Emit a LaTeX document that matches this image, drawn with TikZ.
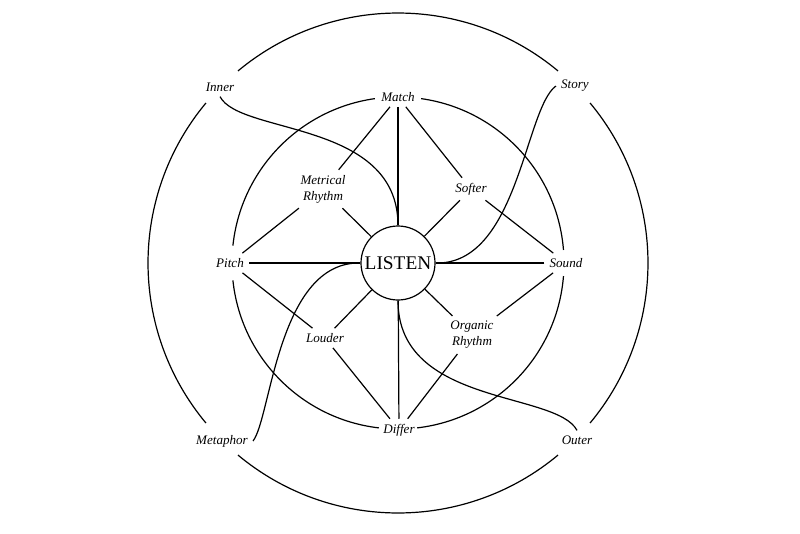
\documentclass[tikz,border=0pt]{standalone}
\usepackage{fontspec}
\setmainfont{Liberation Serif}
\begin{document}
\begin{tikzpicture}[x=0.75pt,y=-0.75pt,line width=0.9pt,
  lbl/.style={font=\fontsize{9.8}{12}\selectfont\itshape, inner sep=3.5pt, align=center},
  hub/.style={circle, draw, minimum size=55.5pt, inner sep=0pt, font=\fontsize{14.5}{16}\selectfont},
  ring/.style={line width=0.9pt},
  link/.style={line width=0.9pt}]
\useasboundingbox (0,0) rectangle (800,533);
\coordinate (C) at (398,263);
% outer ring with gaps at the four corner labels
\foreach \a in {50.2,140.2,230.2,320.2}
  \draw[ring] ([shift={(C)}]\a:250) arc[start angle=\a, delta angle=79.6, radius=250];
% inner ring with gaps at Sound, Differ, Pitch, Match
\draw[ring] ([shift={(C)}]4.5:166) arc[start angle=4.5, end angle=83.4, radius=166];
\draw[ring] ([shift={(C)}]96.6:166) arc[start angle=96.6, end angle=174, radius=166];
\draw[ring] ([shift={(C)}]186:166) arc[start angle=186, end angle=262, radius=166];
\draw[ring] ([shift={(C)}]278:166) arc[start angle=278, end angle=355.5, radius=166];

\node[hub] (L) at (398,263) {LISTEN};
\node[lbl] (match) at (398,97) {Match};
\node[lbl] (differ) at (399,430) {Differ};
\node[lbl] (pitch) at (230,263) {Pitch};
\node[lbl] (sound) at (566,263) {Sound};
\node[lbl] (metr) at (323,189) {Metrical\\Rhythm};
\node[lbl] (softer) at (471,189) {Softer};
\node[lbl] (louder) at (325,338) {Louder};
\node[lbl] (organic) at (472,335) {Organic\\Rhythm};
\node[lbl] (inner) at (220,87) {Inner};
\node[lbl] (story) at (575,86) {Story};
\node[lbl] (metaphor) at (222,441) {Metaphor};
\node[lbl] (outer) at (577,440) {Outer};

% spokes
\draw[link] (match) -- (L);
\draw[link] (match) -- (metr);
\draw[link] (match) -- (softer);
\draw[link] (differ) -- (L);
\draw[link] (differ) -- (louder);
\draw[link] (differ) -- (organic);
\draw[link] (pitch) -- (L);
\draw[link] (pitch) -- (metr);
\draw[link] (pitch) -- (louder);
\draw[link] (sound) -- (L);
\draw[link] (sound) -- (softer);
\draw[link] (sound) -- (organic);
\draw[link] (metr) -- (L);
\draw[link] (softer) -- (L);
\draw[link] (louder) -- (L);
\draw[link] (organic) -- (L);

% sweeping curves from the corner labels
\draw[link] (inner.south) .. controls (240,135) and (398,120) .. (L.north);
\draw[link] (outer.north) .. controls (556,391) and (398,406) .. (L.south);
\draw[link] (story.west) .. controls (525,108) and (518,265) .. (L.east);
\draw[link] (metaphor.east) .. controls (271,418) and (278,261) .. (L.west);
\end{tikzpicture}
\end{document}
